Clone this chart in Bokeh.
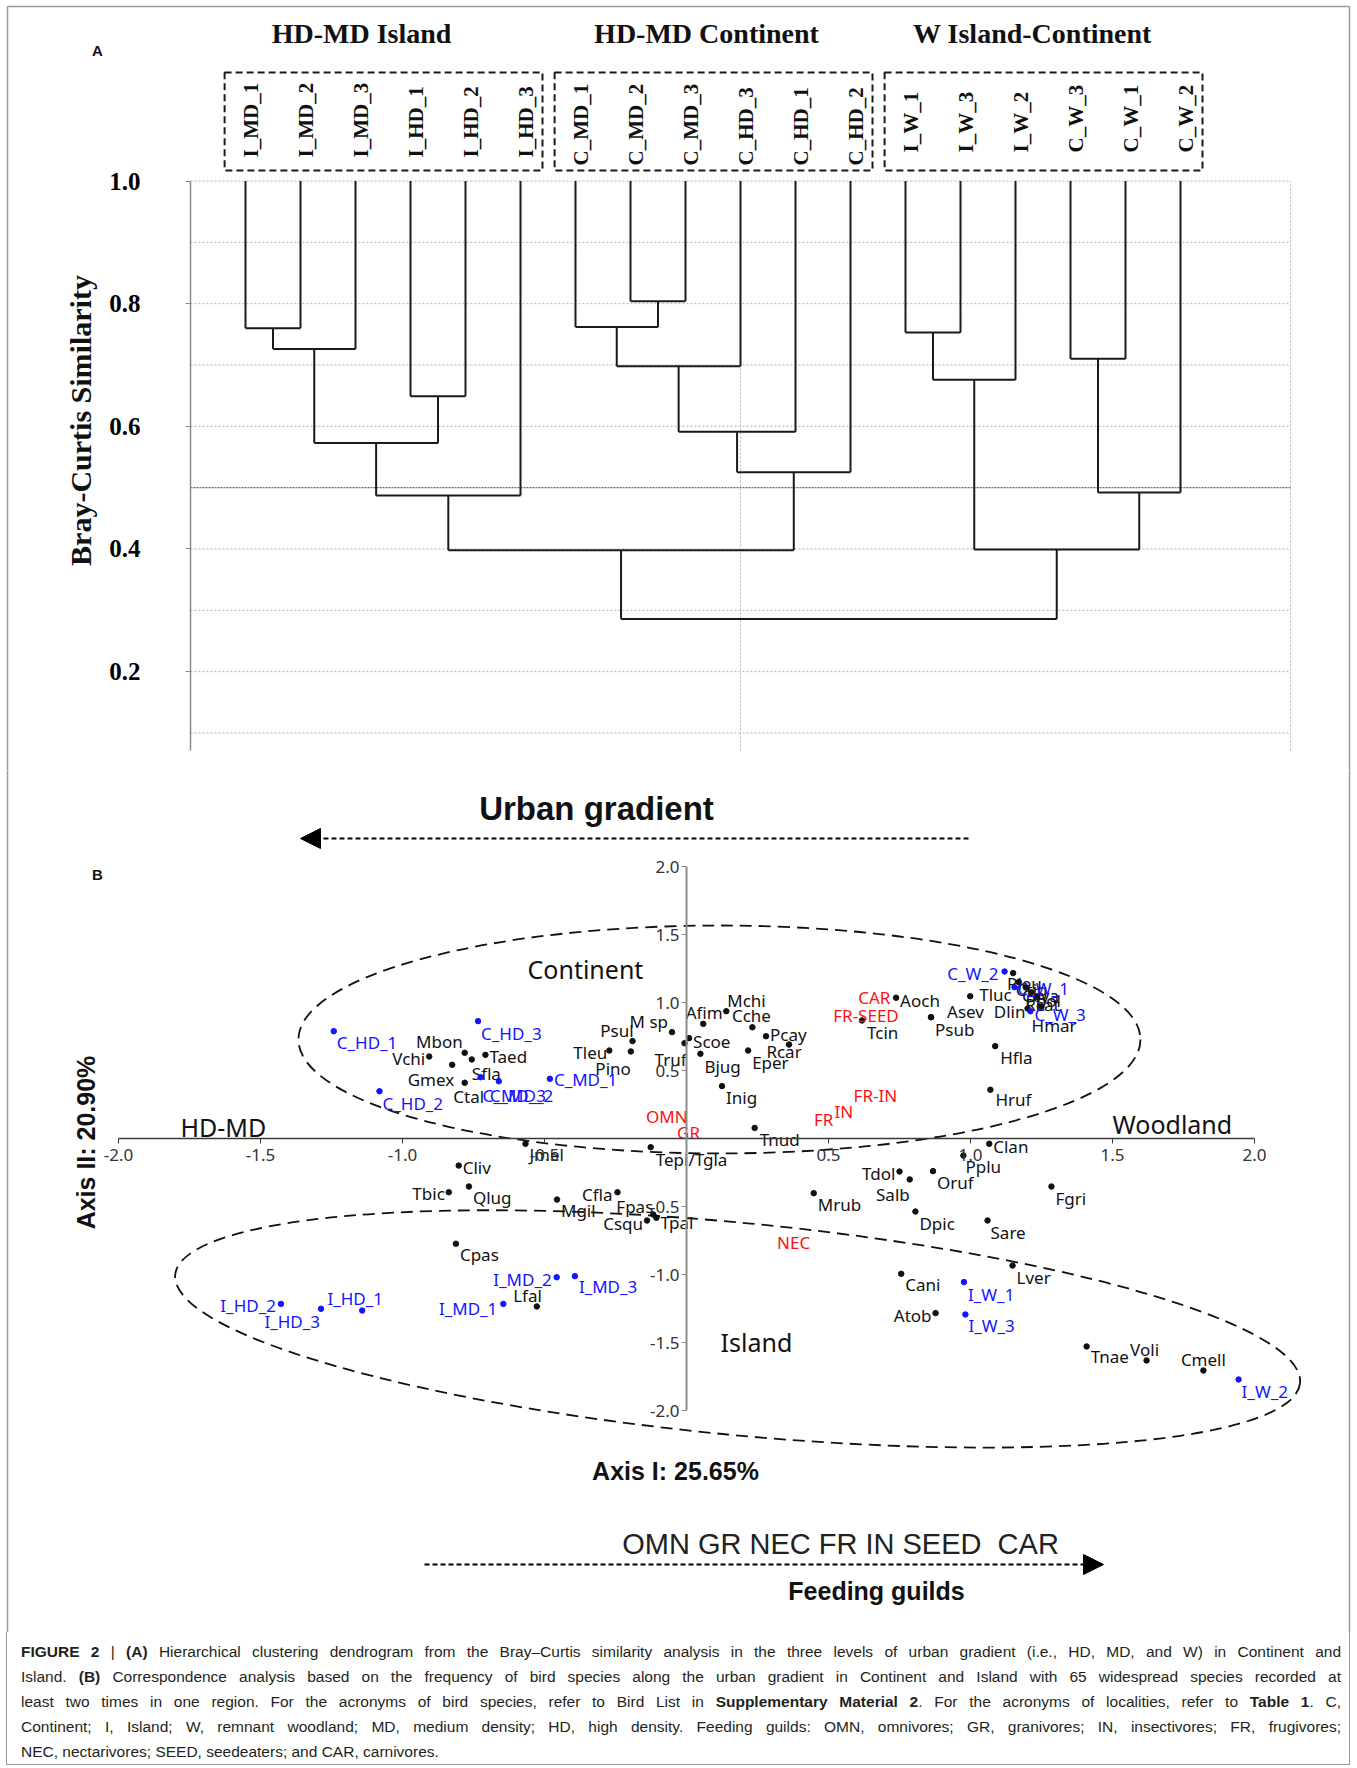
import numpy as np
from bokeh.plotting import figure
from bokeh.models import (ColumnDataSource, LinearAxis, FixedTicker, PrintfTickFormatter,
                          Range1d, Arrow, NormalHead, Div)
from bokeh.layouts import column
from bokeh.core.properties import value
from bokeh.embed import file_html
from bokeh.resources import INLINE

# ------------------------------------------------------------------ data
# (A) Bray-Curtis similarity dendrogram
leaf_labels = ["I_MD_1", "I_MD_2", "I_MD_3", "I_HD_1", "I_HD_2", "I_HD_3",
               "C_MD_1", "C_MD_2", "C_MD_3", "C_HD_3", "C_HD_1", "C_HD_2",
               "I_W_1", "I_W_3", "I_W_2", "C_W_3", "C_W_1", "C_W_2"]
group_titles = ["HD-MD Island", "HD-MD Continent", "W Island-Continent"]
group_first_leaf = [1, 7, 13]
group_last_leaf = [6, 12, 18]
merge_left = [0, 18, 3, 19, 21, 7, 6, 24, 25, 26, 22, 12, 29, 15, 31, 30, 28]
merge_right = [1, 2, 4, 20, 5, 8, 23, 9, 10, 11, 27, 13, 14, 16, 17, 32, 33]
merge_height = [0.760, 0.726, 0.649, 0.573, 0.487, 0.804, 0.762, 0.698, 0.591,
                0.525, 0.398, 0.753, 0.676, 0.710, 0.492, 0.399, 0.286]
sim_ticks = [0.2, 0.4, 0.6, 0.8, 1.0]
sim_grid = [0.1, 0.2, 0.3, 0.4, 0.6, 0.7, 0.8, 0.9, 1.0]
sim_grid_strong = [0.5]

# (B) correspondence analysis
sp_names = ["Mbon", "Vchi", "Taed", "Gmex", "Sfla", "Ctal", "Psul", "Tleu", "Pino", "M sp",
            "Truf", "Scoe", "Afim", "Mchi", "Cche", "Pcay", "Rcar", "Eper", "Bjug", "Inig",
            "Tnud", "Tcin", "Aoch", "Psub", "Asev", "Tluc", "Dlin", "Hmar", "Pleu", "Ctig",
            "Ccya", "Ppol", "Rcat", "Hfla", "Hruf", "Jmel", "Tepi/Tgla", "Cliv", "Tbic", "Qlug",
            "Mgil", "Cfla", "Fpas", "Csqu", "Tpal", "Cpas", "Lfal", "Mrub", "Tdol", "Salb",
            "Oruf", "Pplu", "Clan", "Dpic", "Fgri", "Sare", "Lver", "Cani", "Atob", "Tnae",
            "Voli", "Cmell"]
sp_x = [-0.781, -0.906, -0.708, -0.825, -0.756, -0.781, -0.190, -0.272, -0.196, -0.051,
        -0.007, 0.009, 0.059, 0.140, 0.232, 0.280, 0.361, 0.217, 0.049, 0.125,
        0.240, 0.618, 0.738, 0.861, 0.861, 0.999, 1.250, 1.201, 1.150, 1.170,
        1.195, 1.215, 1.235, 1.087, 1.070, -0.567, -0.126, -0.802, -0.837, -0.766,
        -0.456, -0.243, -0.117, -0.139, -0.106, -0.812, -0.527, 0.448, 0.750, 0.786,
        0.868, 0.975, 1.066, 0.806, 1.285, 1.060, 1.148, 0.756, 0.877, 1.409,
        1.620, 1.820]
sp_y = [0.630, 0.603, 0.615, 0.542, 0.581, 0.410, 0.716, 0.647, 0.640, 0.782,
        0.701, 0.738, 0.843, 0.936, 0.818, 0.752, 0.691, 0.647, 0.623, 0.385,
        0.078, 0.868, 1.035, 0.892, 0.892, 1.046, 0.970, 0.956, 1.216, 1.150,
        1.110, 1.075, 1.040, 0.679, 0.358, -0.039, -0.064, -0.199, -0.395, -0.353,
        -0.449, -0.395, -0.559, -0.603, -0.583, -0.774, -1.235, -0.402, -0.243, -0.301,
        -0.240, -0.125, -0.039, -0.537, -0.353, -0.603, -0.934, -0.995, -1.284, -1.529,
        -1.632, -1.706]

site_names = ["C_HD_1", "C_HD_2", "C_HD_3", "C_MD_1", "C_MD_2", "C_MD_3", "C_W_1", "C_W_2",
              "C_W_3", "I_HD_1", "I_HD_2", "I_HD_3", "I_MD_1", "I_MD_2", "I_MD_3", "I_W_1",
              "I_W_2", "I_W_3"]
site_x = [-1.242, -1.081, -0.734, -0.481, -0.661, -0.725, 1.155, 1.120, 1.211, -1.142,
          -1.428, -1.287, -0.645, -0.457, -0.393, 0.977, 1.944, 0.982]
site_y = [0.789, 0.348, 0.863, 0.439, 0.421, 0.451, 1.113, 1.228, 0.936, -1.265,
          -1.216, -1.252, -1.216, -1.020, -1.012, -1.056, -1.772, -1.294]

guild_names = ["OMN", "GR", "NEC", "FR", "IN", "FR-IN", "FR-SEED", "CAR"]
guild_x = [-0.069, 0.007, 0.377, 0.483, 0.554, 0.665, 0.632, 0.661]
guild_y = [0.162, 0.046, -0.762, 0.137, 0.201, 0.316, 0.904, 1.039]

region_names = ["Continent", "Island"]
region_x = [0.116, 0.180]
region_y = [0.728, -1.400]
region_w = [2.965, 3.979]
region_h = [1.676, 1.560]
region_angle = [0.0, -0.096]

ca_ticks = [-2.0, -1.5, -1.0, -0.5, 0.5, 1.0, 1.5, 2.0]
guild_order = "OMN GR NEC FR IN SEED\u00a0 CAR"
axis1_label = "Axis I: 25.65%"
axis2_label = "Axis II: 20.90%"

caption_lines = [
    "<b>FIGURE 2</b> | <b>(A)</b> Hierarchical clustering dendrogram from the Bray\u2013Curtis similarity analysis in the three levels of urban gradient (i.e., HD, MD, and W) in Continent and",
    "Island. <b>(B)</b> Correspondence analysis based on the frequency of bird species along the urban gradient in Continent and Island with 65 widespread species recorded at",
    "least two times in one region. For the acronyms of bird species, refer to Bird List in <b>Supplementary Material 2</b>. For the acronyms of localities, refer to <b>Table 1</b>. C,",
    "Continent; I, Island; W, remnant woodland; MD, medium density; HD, high density. Feeding guilds: OMN, omnivores; GR, granivores; IN, insectivores; FR, frugivores;",
    "NEC, nectarivores; SEED, seedeaters; and CAR, carnivores.",
]

# ------------------------------------------------------------------ label placement (style)
# (text_align, x offset px, y offset px) for every species / site label
sp_place = [("right", -2, -11), ("right", -4, 2), ("left", 4, 2), ("right", 2, 15), ("left", 0, 14),
            ("center", 4, 14), ("right", 1, -11), ("right", -2, 2), ("right", 0, 17), ("right", -4, -11),
            ("right", 2, 16), ("left", 4, 3), ("center", 1, -11), ("left", 1, -11), ("center", -1, -12),
            ("left", 4, -2), ("center", -5, 7), ("left", 4, 12), ("left", 4, 13), ("left", 4, 11),
            ("left", 5, 12), ("left", 5, 12), ("left", 4, 3), ("left", 4, 12), ("left", 16, -6),
            ("left", 9, -2), ("right", -16, 5), ("left", 4, 17), ("left", -6, 10), ("left", -3, 7),
            ("left", -4, 8), ("left", -6, 8), ("left", -12, 7), ("left", 5, 11), ("left", 5, 10),
            ("left", 4, 11), ("left", 5, 12), ("left", 4, 2), ("right", -4, 1), ("left", 4, 11),
            ("left", 4, 11), ("right", -5, 2), ("right", 0, -8), ("right", -4, 3), ("left", 4, 5),
            ("left", 4, 11), ("right", 5, -11), ("left", 4, 11), ("right", -4, 2), ("right", 0, 15),
            ("left", 4, 11), ("left", 2, 11), ("left", 4, 3), ("left", 4, 12), ("left", 4, 12),
            ("left", 3, 12), ("left", 4, 12), ("left", 4, 11), ("right", -4, 2), ("left", 4, 10),
            ("center", -2, -11), ("center", 0, -11)]
site_place = [("left", 3, 11), ("left", 3, 12), ("left", 3, 12), ("left", 4, 1), ("left", -9, 14),
              ("left", 2, 18), ("left", 3, 1), ("right", -6, 2), ("left", 4, 3), ("center", -7, -12),
              ("right", -5, 2), ("right", -1, 13), ("right", -6, 5), ("right", -5, 2), ("left", 4, 10),
              ("left", 4, 12), ("left", 3, 12), ("left", 3, 11)]

# ------------------------------------------------------------------ page geometry (page px)
W = 1356
HA, HB, HC = 770, 862, 133
TOP_A, TOP_B = 0, HA
BORDER = "#9a9a9a"
BL, BR, BT, BB = 7, 1349, 6, 1764          # outer frame of the whole figure

A_X0, A_DX = 190.0, 55.0      # page x of similarity axis, px per leaf
A_Y1, A_DY = 180.5, 613.3     # page y of similarity 1.0, px per unit


def ax_(px):
    return (px - A_X0) / A_DX


def ay_(py):
    return 1.0 - (py - A_Y1) / A_DY


B_X0, B_SX = 686.0, 284.0     # page x of axis I = 0, px per unit
B_Y0, B_SY = 1138.0, 136.0    # page y of axis II = 0, px per unit


def bx(px):
    return (px - B_X0) / B_SX


def by(py):
    return (B_Y0 - py) / B_SY


SERIF = value("Liberation Serif")
SANS = value("Liberation Sans")
LAB = value("Noto Sans")

# ================================================================== panel A
pA = figure(width=W, height=HA, title=None, toolbar_location=None, output_backend="svg",
            x_range=Range1d(ax_(0), ax_(W)), y_range=Range1d(ay_(TOP_A + HA), ay_(TOP_A)),
            x_axis_type=None, y_axis_type=None, min_border=0, outline_line_color=None,
            background_fill_color="white", border_fill_color="white")

grid_right = ax_(1290)
axis_bottom = ay_(750)
pA.segment(x0=0, x1=grid_right, y0=sim_grid, y1=sim_grid, line_color="#b4b4b4",
           line_width=1, line_dash="2 2")
pA.segment(x0=0, x1=grid_right, y0=sim_grid_strong, y1=sim_grid_strong, line_color="#6a6a6a",
           line_width=1.2, line_dash="2 1")
vgrid = [grid_right / 2, grid_right]
pA.segment(x0=vgrid, x1=vgrid, y0=axis_bottom, y1=1.0, line_color="#b4b4b4", line_width=1,
           line_dash="2 2")

yA = LinearAxis(fixed_location=0, bounds=(axis_bottom, 1.0), ticker=FixedTicker(ticks=sim_ticks),
                formatter=PrintfTickFormatter(format="%.1f"),
                axis_line_color="#8a8a8a", axis_line_width=1.5,
                major_tick_out=5, major_tick_in=0, major_tick_line_color="#8a8a8a",
                minor_tick_line_color=None, major_label_standoff=45,
                major_label_text_font="Liberation Serif", major_label_text_font_style="bold",
                major_label_text_font_size="25px", major_label_text_color="black")
pA.add_layout(yA, "left")

# dendrogram geometry from the merge table
n_leaf = len(leaf_labels)
node_x = {i: float(i + 1) for i in range(n_leaf)}
node_h = {i: 1.0 for i in range(n_leaf)}
sx0, sx1, sy0, sy1 = [], [], [], []
for k, (a, b, h) in enumerate(zip(merge_left, merge_right, merge_height)):
    for c in (a, b):
        sx0.append(node_x[c]); sx1.append(node_x[c]); sy0.append(node_h[c]); sy1.append(h)
    sx0.append(node_x[a]); sx1.append(node_x[b]); sy0.append(h); sy1.append(h)
    node_x[n_leaf + k] = (node_x[a] + node_x[b]) / 2.0
    node_h[n_leaf + k] = h
pA.segment(x0=sx0, x1=sx1, y0=sy0, y1=sy1, line_color="#1a1a1a", line_width=2)

# group boxes, titles and leaf labels
box_top, box_bottom = ay_(72), ay_(170)
pA.quad(left=[f - 0.38 for f in group_first_leaf], right=[l + 0.40 for l in group_last_leaf],
        bottom=box_bottom, top=box_top, fill_color=None, line_color="#1a1a1a",
        line_width=2, line_dash="7 4")
title_px = [361, 706, 1032]
pA.text(x=[ax_(t) for t in title_px], y=ay_(33), text=group_titles, text_align="center",
        text_baseline="middle", text_font=SERIF, text_font_style="bold", text_font_size="28px",
        text_color="#111111")
label_bottom_px = [157, 165, 152]
leaf_y = []
for g, (f, l) in enumerate(zip(group_first_leaf, group_last_leaf)):
    leaf_y += [ay_(label_bottom_px[g])] * (l - f + 1)
pA.text(x=[i + 1 + 5.0 / A_DX for i in range(n_leaf)], y=leaf_y, text=leaf_labels,
        angle=np.pi / 2, text_align="left", text_baseline="middle", text_font=SERIF,
        text_font_style="bold", text_font_size="21px", text_color="#111111")
pA.text(x=[ax_(80)], y=[ay_(420)], text=["Bray-Curtis Similarity"], angle=np.pi / 2,
        text_align="center", text_baseline="middle", text_font=SERIF, text_font_style="bold",
        text_font_size="30px", text_color="#111111")
pA.text(x=[ax_(97)], y=[ay_(50)], text=["A"], text_align="center", text_baseline="middle",
        text_font=SANS, text_font_style="bold", text_font_size="15px", text_color="#111111")

# outer frame (top + sides)
pA.segment(x0=[ax_(BL), ax_(BL), ax_(BR)], x1=[ax_(BR), ax_(BL), ax_(BR)],
           y0=[ay_(BT), ay_(BT), ay_(BT)], y1=[ay_(BT), ay_(HA + 2), ay_(HA + 2)],
           line_color=BORDER, line_width=1.5)

# ================================================================== panel B
pB = figure(width=W, height=HB, title=None, toolbar_location=None, output_backend="svg",
            x_range=Range1d(bx(0), bx(W)), y_range=Range1d(by(TOP_B + HB), by(TOP_B)),
            x_axis_type=None, y_axis_type=None, min_border=0, outline_line_color=None,
            background_fill_color="white", border_fill_color="white")

common_ax = dict(ticker=FixedTicker(ticks=ca_ticks), formatter=PrintfTickFormatter(format="%.1f"),
                 bounds=(-2, 2), fixed_location=0, major_tick_in=0, major_tick_out=5,
                 minor_tick_line_color=None, major_label_text_font="Noto Sans",
                 major_label_text_font_size="17px", major_label_text_color="#333333")
xB = LinearAxis(axis_line_color="#3a3a3a", axis_line_width=1.6, major_tick_line_color="#3a3a3a",
                major_label_standoff=5, **common_ax)
yB = LinearAxis(axis_line_color="#8c8c8c", axis_line_width=2, major_tick_line_color="#8c8c8c",
                major_label_standoff=2, **common_ax)
pB.add_layout(xB, "below")
pB.add_layout(yB, "left")

pB.ellipse(x=region_x, y=region_y, width=region_w, height=region_h, angle=region_angle,
           fill_color=None, line_color="#111111", line_width=1.8, line_dash="12 7")


def add_points(names, xs, ys, place, color, dot):
    if dot:
        pB.scatter(x=xs, y=ys, size=5.5, color=color)
    for align in ("left", "center", "right"):
        idx = [i for i, p in enumerate(place) if p[0] == align]
        if not idx:
            continue
        src = ColumnDataSource(dict(x=[xs[i] for i in idx], y=[ys[i] for i in idx],
                                    t=[names[i] for i in idx], dx=[place[i][1] for i in idx],
                                    dy=[place[i][2] for i in idx]))
        pB.text(x="x", y="y", text="t", x_offset="dx", y_offset="dy", source=src,
                text_align=align, text_baseline="middle", text_font=LAB,
                text_font_size="17px", text_color=color)


add_points(sp_names, sp_x, sp_y, sp_place, "#111111", True)
add_points(site_names, site_x, site_y, site_place, "#1414ff", True)
add_points(guild_names, guild_x, guild_y, [("center", 0, 0)] * len(guild_names), "#ff1010", False)

# region / gradient labels
pB.text(x=[bx(527), bx(720)], y=[by(968), by(1341)], text=region_names, text_align="left",
        text_baseline="middle", text_font=LAB, text_font_size="25px", text_color="#111111")
pB.text(x=[bx(180), bx(1112)], y=[by(1126), by(1123)], text=["HD-MD", "Woodland"],
        text_align="left", text_baseline="middle", text_font=LAB, text_font_size="25px",
        text_color="#111111")
pB.text(x=[bx(85)], y=[by(1142)], text=[axis2_label], angle=np.pi / 2, text_align="center",
        text_baseline="middle", text_font=SANS, text_font_style="bold", text_font_size="25px",
        text_color="#111111")
pB.text(x=[bx(675)], y=[by(1470)], text=[axis1_label], text_align="center",
        text_baseline="middle", text_font=SANS, text_font_style="bold", text_font_size="25px",
        text_color="#111111")
pB.text(x=[bx(596)], y=[by(808)], text=["Urban gradient"], text_align="center",
        text_baseline="middle", text_font=SANS, text_font_style="bold", text_font_size="33px",
        text_color="#111111")
pB.text(x=[bx(97)], y=[by(874)], text=["B"], text_align="center", text_baseline="middle",
        text_font=SANS, text_font_style="bold", text_font_size="15px", text_color="#111111")
pB.text(x=[bx(840)], y=[by(1543)], text=[guild_order], text_align="center",
        text_baseline="middle", text_font=SANS, text_font_size="29px", text_color="#222222")
pB.text(x=[bx(876)], y=[by(1590)], text=["Feeding guilds"], text_align="center",
        text_baseline="middle", text_font=SANS, text_font_style="bold", text_font_size="25px",
        text_color="#111111")

pB.add_layout(Arrow(end=NormalHead(size=20, fill_color="black", line_color="black"),
                    x_start=bx(968), y_start=by(838), x_end=bx(300), y_end=by(838),
                    line_color="black", line_width=2, line_dash="5 3"))
pB.add_layout(Arrow(end=NormalHead(size=20, fill_color="black", line_color="black"),
                    x_start=bx(424), y_start=by(1564), x_end=bx(1103), y_end=by(1564),
                    line_color="black", line_width=2, line_dash="5 3"))

# outer frame (sides)
pB.segment(x0=[bx(BL), bx(BR)], x1=[bx(BL), bx(BR)], y0=by(TOP_B - 2), y1=by(TOP_B + HB + 2),
           line_color=BORDER, line_width=1.5)

# ================================================================== caption
rows = []
for i, line in enumerate(caption_lines):
    last = i == len(caption_lines) - 1
    align = "left" if last else "justify"
    rows.append("<div style='text-align:%s;text-align-last:%s;'>%s</div>" % (align, align, line))
html = ("<div style=\"margin-left:%dpx;width:%dpx;height:%dpx;box-sizing:border-box;"
        "border:1.5px solid %s;border-top:none;padding:7px 8px 0 14px;"
        "font-family:'Liberation Sans',Arial,sans-serif;font-size:15.5px;line-height:25px;"
        "color:#231f20;\">%s</div>" % (BL - 1, BR - BL + 2, BB - (TOP_B + HB) + 1, BORDER,
                                      "".join(rows)))
cap = Div(text=html, width=W, height=HC, margin=(0, 0, 0, 0))

page = column(pA, pB, cap, spacing=0)
open("out.html", "w").write(file_html(page, INLINE))
